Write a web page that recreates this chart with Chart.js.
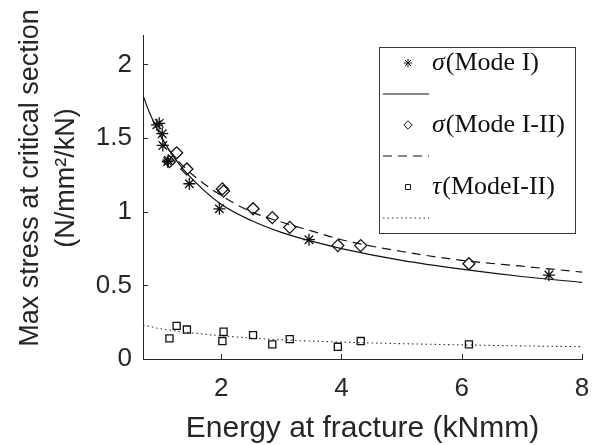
<!DOCTYPE html>
<html>
<head>
<meta charset="utf-8">
<script src="https://cdn.jsdelivr.net/npm/chart.js@4/dist/chart.umd.min.js"></script>
<style>
  html, body { margin: 0; padding: 0; background: #fff; }
  #wrap { width: 610px; height: 445px; }
</style>
</head>
<body>
<div id="wrap"><canvas id="chart" width="610" height="445"></canvas></div>
<script>
// measured points: Mode I
const modeIX = [0.93, 0.97, 1.02, 1.03, 1.11, 1.12, 1.47, 1.97, 3.46, 7.45];
const modeIY = [1.59, 1.60, 1.53, 1.45, 1.34, 1.35, 1.19, 1.02, 0.81, 0.57];

// measured points: Mode I-II (sigma and tau share the same tests)
const mixedX = [1.14, 1.26, 1.43, 2.02, 2.04, 2.53, 2.85, 3.14, 3.94, 4.32, 6.12];
const sigmaMixedY = [1.34, 1.40, 1.29, 1.155, 1.14, 1.02, 0.96, 0.894, 0.77, 0.77, 0.647];
const tauMixedY = [0.14, 0.225, 0.20, 0.122, 0.185, 0.162, 0.099, 0.135, 0.083, 0.122, 0.099];

// fitted curves
const fitIX = [0.7, 0.8, 0.9, 1.0, 1.25, 1.5, 2, 2.5, 3, 3.5, 4, 5, 6, 7, 8];
const fitIY = [1.79, 1.68, 1.59, 1.51, 1.35, 1.23, 1.05, 0.94, 0.86, 0.80, 0.75, 0.67, 0.61, 0.56, 0.52];
const fitMixedX = [1.13, 1.25, 1.5, 2, 2.5, 3, 3.5, 4, 5, 6, 7, 8];
const fitMixedY = [1.42, 1.36, 1.26, 1.11, 1.00, 0.93, 0.87, 0.81, 0.73, 0.67, 0.63, 0.59];
const fitTauX = [0.7, 1, 1.5, 2, 3, 4, 5, 6, 7, 8];
const fitTauY = [0.23, 0.205, 0.178, 0.158, 0.13, 0.115, 0.104, 0.096, 0.089, 0.084];

const xTicks = [2, 4, 6, 8];
const yTicks = [0, 0.5, 1, 1.5, 2];
const xTitle = 'Energy at fracture (kNmm)';
const yTitleLines = ['Max stress at critical section', '(N/mm\u00B2/kN)'];
// legend: [greek letter, rest]
const legendLabels = [['\u03C3', '(Mode I)'], null, ['\u03C3', '(Mode I-II)'], null, ['\u03C4', '(ModeI-II)'], null];

const INK = '#262626';
const SANS = '"Liberation Sans", Arial, sans-serif';
const SERIF = '"Liberation Serif", "Times New Roman", serif';

const pts = (xs, ys) => xs.map((x, i) => ({ x: x, y: ys[i] }));

// MATLAB style ticks pointing into the axes
const inwardTicks = {
    id: 'inwardTicks',
    afterDraw(chart) {
        const { ctx, chartArea, scales } = chart;
        ctx.save();
        ctx.strokeStyle = INK;
        ctx.lineWidth = 1;
        ctx.beginPath();
        scales.x.ticks.forEach(t => {
            const px = Math.round(scales.x.getPixelForValue(t.value)) + 0.5;
            ctx.moveTo(px, chartArea.bottom);
            ctx.lineTo(px, chartArea.bottom - 5);
        });
        scales.y.ticks.forEach(t => {
            const py = Math.round(scales.y.getPixelForValue(t.value)) + 0.5;
            ctx.moveTo(chartArea.left, py);
            ctx.lineTo(chartArea.left + 5, py);
        });
        ctx.stroke();
        ctx.restore();
    }
};

// two-line y label, centred like the original
const yTitle = {
    id: 'yTitle',
    afterDraw(chart) {
        const ctx = chart.ctx;
        ctx.save();
        ctx.translate(31, 178);
        ctx.rotate(-Math.PI / 2);
        ctx.font = '27px ' + SANS;
        ctx.fillStyle = INK;
        ctx.textAlign = 'center';
        ctx.textBaseline = 'middle';
        yTitleLines.forEach((line, i) => ctx.fillText(line, 0, i * 36));
        ctx.restore();
    }
};

// boxed legend in the upper right
const boxLegend = {
    id: 'boxLegend',
    afterDraw(chart) {
        const ctx = chart.ctx;
        const box = { x: 379.5, y: 47.5, w: 196, h: 186 };
        ctx.save();
        ctx.fillStyle = '#fff';
        ctx.fillRect(box.x, box.y, box.w, box.h);
        ctx.strokeStyle = '#3a3a3a';
        ctx.lineWidth = 1;
        ctx.strokeRect(box.x, box.y, box.w, box.h);

        chart.data.datasets.forEach((ds, i) => {
            const rowY = 63 + i * 31;
            if (ds.showLine) {
                ctx.save();
                ctx.strokeStyle = ds.borderColor;
                ctx.lineWidth = ds.borderWidth;
                ctx.setLineDash(ds.borderDash || []);
                ctx.beginPath();
                ctx.moveTo(383, rowY);
                ctx.lineTo(429, rowY);
                ctx.stroke();
                ctx.restore();
            } else {
                ctx.save();
                ctx.strokeStyle = ds.borderColor;
                ctx.fillStyle = 'rgba(0,0,0,0)';
                ctx.lineWidth = 1;
                Chart.helpers.drawPoint(ctx, {
                    pointStyle: ds.pointStyle,
                    radius: ds.pointRadius * 0.7,
                    borderWidth: 1,
                    rotation: 0
                }, 408, rowY);
                ctx.restore();
            }
            const lab = legendLabels[i];
            if (lab) {
                ctx.fillStyle = '#111';
                ctx.textBaseline = 'middle';
                ctx.textAlign = 'left';
                ctx.font = 'italic 26px ' + SERIF;
                ctx.fillText(lab[0], 432, rowY);
                const w = ctx.measureText(lab[0]).width;
                ctx.font = '26px ' + SERIF;
                ctx.fillText(lab[1], 432 + w + 1, rowY);
            }
        });
        ctx.restore();
    }
};

const markerBase = { showLine: false, borderColor: '#111', borderWidth: 1.3, backgroundColor: 'rgba(0,0,0,0)' };
const lineBase = { showLine: true, pointRadius: 0, borderColor: '#111', borderWidth: 1.2, cubicInterpolationMode: 'monotone', fill: false };

new Chart(document.getElementById('chart'), {
    type: 'scatter',
    data: {
        datasets: [
            Object.assign({ label: 'sigma Mode I', data: pts(modeIX, modeIY), pointStyle: 'star', pointRadius: 6 }, markerBase),
            Object.assign({ label: 'fit Mode I', data: pts(fitIX, fitIY) }, lineBase),
            Object.assign({ label: 'sigma Mode I-II', data: pts(mixedX, sigmaMixedY), pointStyle: 'rectRot', pointRadius: 6 }, markerBase),
            Object.assign({ label: 'fit Mode I-II', data: pts(fitMixedX, fitMixedY), borderDash: [9, 6] }, lineBase),
            Object.assign({ label: 'tau Mode I-II', data: pts(mixedX, tauMixedY), pointStyle: 'rect', pointRadius: 5 }, markerBase),
            Object.assign({ label: 'fit tau', data: pts(fitTauX, fitTauY), borderDash: [1.5, 3] }, lineBase, { borderColor: '#333', borderWidth: 1.1 })
        ]
    },
    options: {
        responsive: false,
        animation: false,
        devicePixelRatio: 1,
        layout: { padding: { left: 0, right: 28, top: 35, bottom: 0 } },
        plugins: { legend: { display: false }, tooltip: { enabled: false } },
        scales: {
            x: {
                type: 'linear',
                min: 0.7,
                max: 8,
                afterBuildTicks: s => { s.ticks = xTicks.map(v => ({ value: v })); },
                afterFit: s => { s.height = 86; },
                grid: { display: false, drawTicks: false },
                border: { display: true, color: INK, width: 1 },
                ticks: { color: INK, font: { family: SANS, size: 26 }, padding: 14, maxRotation: 0, autoSkip: false },
                title: { display: true, text: xTitle, color: INK, font: { family: SANS, size: 30, lineHeight: 1.1 }, padding: { top: 0, bottom: 0 } }
            },
            y: {
                type: 'linear',
                min: 0,
                max: 2.2,
                afterBuildTicks: s => { s.ticks = yTicks.map(v => ({ value: v })); },
                afterFit: s => { s.width = 143; },
                grid: { display: false, drawTicks: false },
                border: { display: true, color: INK, width: 1 },
                ticks: { color: INK, font: { family: SANS, size: 26 }, padding: 11, callback: v => String(v) }
            }
        }
    },
    plugins: [inwardTicks, yTitle, boxLegend]
});
</script>
</body>
</html>
